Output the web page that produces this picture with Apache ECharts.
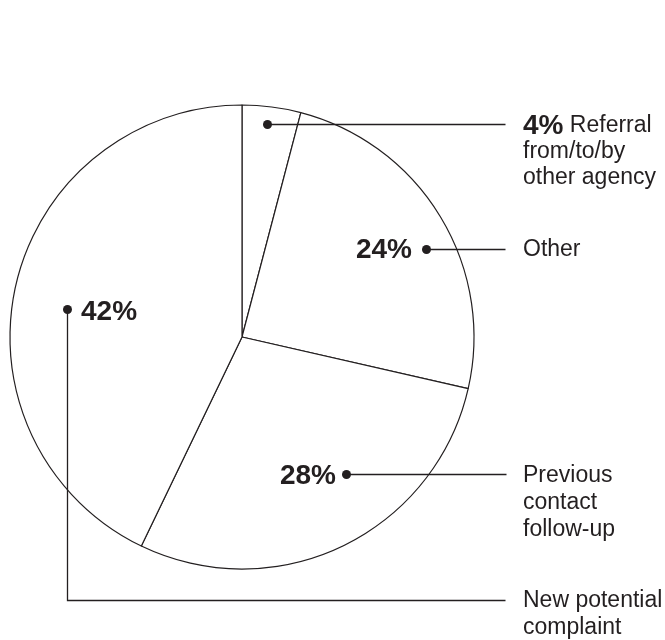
<!DOCTYPE html>
<html>
<head>
<meta charset="utf-8">
<script src="https://cdn.jsdelivr.net/npm/echarts@6/dist/echarts.min.js"></script>
<style>
html,body{margin:0;padding:0;background:#fff;}
#chart{width:665px;height:640px;}
</style>
</head>
<body>
<div id="chart"></div>
<script>
// ---- data ----
const categories = ['Referral from/to/by other agency', 'Other', 'Previous contact follow-up', 'New potential complaint'];
const values = [4, 24, 28, 42];
const nameLines = [
  ['Referral', 'from/to/by', 'other agency'],
  ['Other'],
  ['Previous', 'contact', 'follow-up'],
  ['New potential', 'complaint']
];

// ---- layout (annotation placement) ----
const INK = '#231f20';
const FONT = '"Liberation Sans", Arial, Helvetica, sans-serif';
const layout = [
  { dot: [267, 124], pct: 'inline', path: [[267, 124], [505, 124]], text: [523, 113] },
  { dot: [426, 249], pct: [412, 250], path: [[426, 249], [505, 249]], text: [523, 236] },
  { dot: [346, 474], pct: [336, 476], path: [[346, 474], [506, 474]], text: [523, 462] },
  { dot: [67, 309], pct: [81, 312], pct_left: true, path: [[67, 309], [67, 600], [505, 600]], text: [523, 587] }
];

const chart = echarts.init(document.getElementById('chart'), null, { renderer: 'canvas' });

const graphics = [];
values.forEach((v, i) => {
  const L = layout[i];
  graphics.push({
    type: 'polyline', silent: true, z: 100,
    shape: { points: L.path.map(p => [p[0] + 0.5, p[1] + 0.5]) },
    style: { stroke: INK, lineWidth: 1.3, fill: null }
  });
  graphics.push({
    type: 'circle', silent: true, z: 101,
    shape: { cx: L.dot[0] + 0.5, cy: L.dot[1] + 0.5, r: 4.5 },
    style: { fill: INK }
  });
  const pctText = v + '%';
  if (L.pct === 'inline') {
    graphics.push({
      type: 'text', silent: true, z: 101,
      style: {
        x: L.text[0], y: L.text[1],
        text: '{p|' + pctText + '}{n| ' + nameLines[i][0] + '}\n{n|' + nameLines[i].slice(1).join('}\n{n|') + '}',
        rich: {
          p: { fontFamily: FONT, fontSize: 28, fontWeight: 'bold', fill: INK, lineHeight: 26 },
          n: { fontFamily: FONT, fontSize: 23, fill: INK, lineHeight: 26 }
        },
        verticalAlign: 'top', align: 'left'
      }
    });
  } else {
    graphics.push({
      type: 'text', silent: true, z: 101,
      style: {
        x: L.pct[0], y: L.pct[1],
        text: pctText,
        fontFamily: FONT, fontSize: 28, fontWeight: 'bold', fill: INK,
        align: L.pct_left ? 'left' : 'right', verticalAlign: 'middle'
      }
    });
    graphics.push({
      type: 'text', silent: true, z: 101,
      style: {
        x: L.text[0], y: L.text[1],
        text: nameLines[i].join('\n'),
        fontFamily: FONT, fontSize: 23, fill: INK, lineHeight: 27,
        align: 'left', verticalAlign: 'top'
      }
    });
  }
});

chart.setOption({
  backgroundColor: '#fff',
  animation: false,
  series: [{
    type: 'pie',
    z: 1,
    center: [242, 337],
    radius: 232,
    startAngle: 90,
    clockwise: true,
    avoidLabelOverlap: false,
    label: { show: false },
    labelLine: { show: false },
    emphasis: { disabled: true },
    itemStyle: { color: '#fff', borderColor: INK, borderWidth: 1.2 },
    data: categories.map((c, i) => ({ name: c, value: values[i] }))
  }],
  graphic: graphics
});
</script>
</body>
</html>
